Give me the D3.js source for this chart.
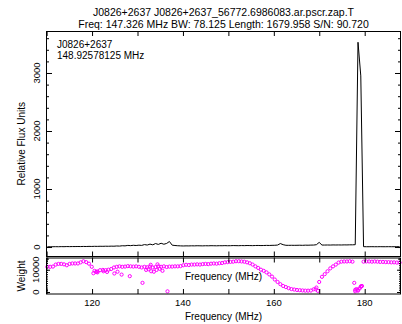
<!DOCTYPE html>
<html>
<head>
<meta charset="utf-8">
<script src="https://cdn.jsdelivr.net/npm/d3@7"></script>
<style>
  html, body { margin: 0; padding: 0; background: #fff; }
  svg { display: block; font-family: "Liberation Sans", Arial, Helvetica, sans-serif; }
</style>
</head>
<body>
<svg id="chart" width="402" height="324"></svg>
<script>
// Observation metadata
const titleLine1 = "J0826+2637 J0826+2637_56772.6986083.ar.pscr.zap.T";
const titleLine2 = "Freq: 147.326 MHz BW: 78.125 Length: 1679.958 S/N: 90.720";
const sourceName = "J0826+2637";
const centreLabel = "148.92578125 MHz";

// Band: centre frequency and bandwidth (MHz), 128 channels
const centreFreq = 148.92578125;
const bandwidth = 78.125;
const nChan = 128;

// Relative flux per channel
const flux = [
  4, 5, 5, 6, 5, 7, 6, 8, 7, 8,
  8, 9, 8, 10, 9, 11, 10, 12, 11, 13,
  12, 14, 13, 15, 14, 18, 16, 22, 20, 28,
  24, 30, 26, 32, 28, 42, 34, 50, 38, 60,
  45, 65, 48, 62, 95, 32, 26, 22, 20, 18,
  20, 19, 21, 20, 22, 21, 20, 22, 21, 23,
  22, 21, 23, 22, 24, 22, 23, 25, 24, 23,
  25, 24, 26, 25, 24, 26, 27, 25, 26, 28,
  27, 29, 30, 34, 60, 40, 30, 29, 30, 29,
  30, 31, 29, 32, 31, 33, 34, 40, 80, 34,
  34, 35, 34, 36, 35, 36, 35, 37, 36, 38,
  38, 40, 3530, 2950, 6, 5, 5, 6, 5, 5,
  6, 5, 5, 6, 5, 5, 6, 5
];

// Channel weights
const weights = [
  11300, 11300, 11400, 12300, 12600, 12600, 12400, 12000, 12600, 12800,
  12800, 12800, 13300, 13800, 13400, 12700, 11300, 9500, 9200, 9800,
  9900, 9800, 10000, 10300, 11000, 11300, 11500, 11300, 11400, 11600,
  11500, 11400, 11500, 11300, 11000, 11300, 11100, 11400, 11000, 11200,
  11500, 11300, 11500, 11200, 11400, 11400, 11500, 11500, 11600, 12000,
  12200, 12100, 12300, 12300, 12400, 12300, 12500, 12600, 12500, 12700,
  12800, 12700, 12900, 13000, 13300, 13400, 13500, 13600, 13800, 13800,
  13700, 13600, 13300, 12900, 12300, 11500, 10800, 10000, 9500, 8800,
  7900, 6900, 5600, 4500, 3500, 2700, 2200, 1700, 1300, 1100,
  900, 800, 700, 600, 600, 650, 1200, 2000, 4500, 6800,
  8000, 9300, 10600, 11500, 12300, 13200, 13600, 13700, 13700, 13800,
  13600, 1000, 600, 2500, 13600, 13700, 13700, 13600, 13700, 13600,
  13500, 13500, 13400, 13400, 13300, 13300, 13200, 13200
];

// Additional weight samples off the main trend
const extraFreq = [120.3, 120.9, 121.2, 122.5, 123.3, 124.9, 125.6, 126.5, 128.3, 131.1,
                   131.9, 132.4, 132.9, 133.0, 133.6, 134.2, 134.4, 134.9, 135.5, 136.6,
                   169.2, 169.7, 177.7, 177.9, 178.2, 178.5, 178.9, 179.2, 179.4];
const extraWeight = [8400, 9000, 8800, 9300, 9000, 8300, 9100, 7800, 7100, 4100,
                     9900, 10200, 12200, 9300, 9100, 9900, 12400, 10400, 9500, 300,
                     1200, 500, 4100, 300, 1300, 1000, 1600, 2400, 2700];

// Axis ticks
const freqMajor = [120, 140, 160, 180];
const freqMinor = [110, 120, 130, 140, 150, 160, 170, 180];
const fluxMajor = [0, 1000, 2000, 3000];
const fluxMinor = d3.range(-200, 3800, 200);
const weightMajor = [0, 10000];
const weightMinor = d3.range(0, 16000, 1000);

const chanWidth = bandwidth / nChan;
const lowEdge = centreFreq - bandwidth / 2;
const chanFreq = d3.range(nChan).map(i => lowEdge + (i + 0.5) * chanWidth);

const svg = d3.select("#chart");
const L = 46, R = 401;
const top1 = 31, bot1 = 256.5, top2 = 257.5, bot2 = 294;

const x = d3.scaleLinear().domain([lowEdge, lowEdge + bandwidth]).range([L, R]);
const yFlux = d3.scaleLinear().domain([-172, 3724]).range([257, 31]);
const yW = d3.scaleLinear().domain([-900, 15700]).range([294, 257]);

const defs = svg.append("defs");
defs.append("clipPath").attr("id", "clipTop").append("rect")
  .attr("x", L).attr("y", top1).attr("width", R - L).attr("height", bot1 - top1);
defs.append("clipPath").attr("id", "clipBot").append("rect")
  .attr("x", L - 2).attr("y", top2).attr("width", R - L + 4).attr("height", bot2 - top2);

// Titles
svg.append("text").attr("x", (L + R) / 2).attr("y", 16).attr("text-anchor", "middle")
  .attr("font-size", 10.5).text(titleLine1);
svg.append("text").attr("x", (L + R) / 2).attr("y", 28).attr("text-anchor", "middle")
  .attr("font-size", 10.5).text(titleLine2);

// Flux profile
svg.append("path")
  .datum(chanFreq.map((f, i) => [f, flux[i]]))
  .attr("clip-path", "url(#clipTop)")
  .attr("fill", "none").attr("stroke", "#000").attr("stroke-width", 1)
  .attr("d", d3.line().x(d => x(d[0])).y(d => yFlux(d[1])));

// Weights
const wPts = chanFreq.map((f, i) => [f, weights[i]])
  .concat(extraFreq.map((f, i) => [f, extraWeight[i]]));
svg.append("g").attr("clip-path", "url(#clipBot)")
  .selectAll("circle").data(wPts).join("circle")
  .attr("cx", d => x(d[0])).attr("cy", d => yW(d[1])).attr("r", 1.6)
  .attr("fill", "none").attr("stroke", "#ff00ff").attr("stroke-width", 1);

// Helper to draw inward tick marks
function ticks(axisFn, scale, values, size, tx, ty) {
  const g = svg.append("g").attr("transform", `translate(${tx},${ty})`)
    .call(axisFn(scale).tickValues(values).tickSizeInner(-size).tickSizeOuter(0).tickFormat(""));
  g.select(".domain").remove();
  g.selectAll("line").attr("stroke", "#000");
  return g;
}

// Top panel ticks
ticks(d3.axisTop, x, freqMinor, 5, 0, top1);
ticks(d3.axisBottom, x, freqMinor, 5, 0, bot1);
ticks(d3.axisLeft, yFlux, fluxMinor, 3, L, 0);
ticks(d3.axisLeft, yFlux, fluxMajor, 6, L, 0);
ticks(d3.axisRight, yFlux, fluxMinor, 3, R, 0);
ticks(d3.axisRight, yFlux, fluxMajor, 6, R, 0);

// Bottom panel ticks
ticks(d3.axisTop, x, freqMinor, 5, 0, top2);
ticks(d3.axisBottom, x, freqMinor, 5, 0, bot2);
ticks(d3.axisLeft, yW, weightMinor, 2, L, 0);
ticks(d3.axisLeft, yW, weightMajor, 4, L, 0);
ticks(d3.axisRight, yW, weightMinor, 2, R, 0);
ticks(d3.axisRight, yW, weightMajor, 4, R, 0);

// Frames
svg.append("rect").attr("x", L + 0.5).attr("y", top1 + 0.5).attr("width", R - L - 1).attr("height", bot1 - top1 - 0.5)
  .attr("fill", "none").attr("stroke", "#000");
svg.append("rect").attr("x", L + 0.5).attr("y", top2 + 0.5).attr("width", R - L - 1).attr("height", bot2 - top2 - 0.5)
  .attr("fill", "none").attr("stroke", "#000");

// Tick labels
svg.append("g").selectAll("text").data(fluxMajor).join("text")
  .attr("transform", d => `translate(40,${yFlux(d)}) rotate(-90)`)
  .attr("text-anchor", "middle").attr("font-size", 9.5).text(d => d);
svg.append("g").selectAll("text").data(weightMajor).join("text")
  .attr("transform", d => `translate(39,${yW(d)}) rotate(-90)`)
  .attr("text-anchor", "middle").attr("font-size", 9.5).text(d => d);
svg.append("g").selectAll("text").data(freqMajor).join("text")
  .attr("x", d => x(d)).attr("y", 306).attr("text-anchor", "middle")
  .attr("font-size", 9.5).text(d => d);

// Axis titles
svg.append("text").attr("transform", `translate(25,${(top1 + bot1) / 2}) rotate(-90)`)
  .attr("text-anchor", "middle").attr("font-size", 10).text("Relative Flux Units");
svg.append("text").attr("transform", `translate(25,276) rotate(-90)`)
  .attr("text-anchor", "middle").attr("font-size", 10).text("Weight");
svg.append("text").attr("x", (L + R) / 2).attr("y", 280).attr("text-anchor", "middle")
  .attr("font-size", 10).text("Frequency (MHz)");
svg.append("text").attr("x", (L + R) / 2).attr("y", 320).attr("text-anchor", "middle")
  .attr("font-size", 10).text("Frequency (MHz)");

// In-panel annotation
svg.append("text").attr("x", 57).attr("y", 47.5).attr("font-size", 10).text(sourceName);
svg.append("text").attr("x", 57).attr("y", 58.5).attr("font-size", 10).text(centreLabel);
</script>
</body>
</html>
